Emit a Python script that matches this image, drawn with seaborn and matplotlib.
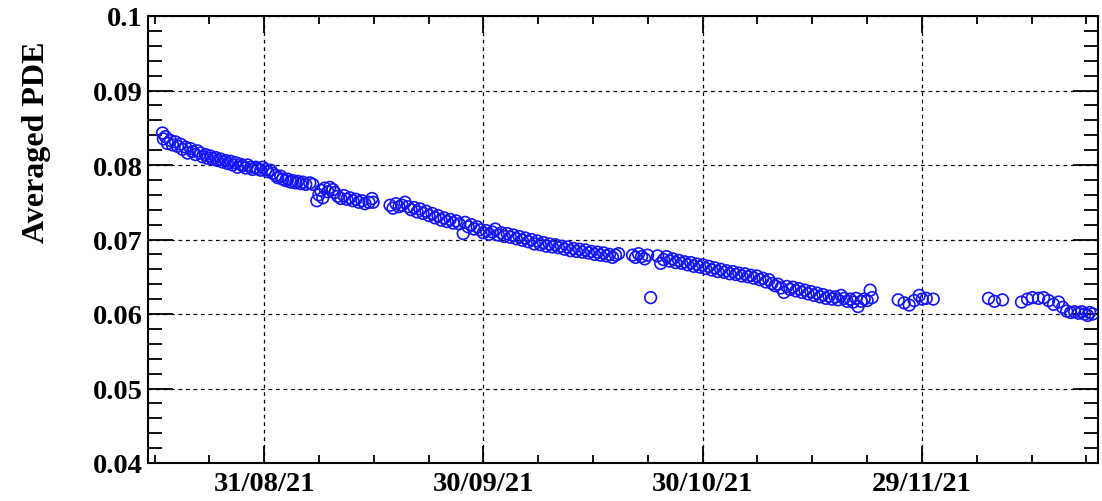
import numpy as np
import pandas as pd
import matplotlib
matplotlib.use("Agg")
import matplotlib.pyplot as plt
import matplotlib.dates as mdates
from matplotlib.ticker import MultipleLocator, FixedLocator, FuncFormatter
import seaborn as sns

# Measurement times, in days after 2021-08-31 00:00
days_after_aug31 = [
    -13.92, -13.80, -13.51, -13.24, -12.83, -12.55, -12.14, -11.87, -11.45, -11.18,
    -10.77, -10.49, -10.08, -9.81, -9.40, -9.12, -8.71, -8.44, -8.02, -7.75,
    -7.34, -7.06, -6.65, -6.38, -5.97, -5.69, -5.28, -5.01, -4.60, -4.32,
    -3.91, -3.64, -3.22, -2.95, -2.54, -2.26, -1.85, -1.58, -1.17, -0.89,
    -0.48, -0.21, 0.21, 0.48, 0.89, 1.17, 1.58, 1.85, 2.26, 2.54,
    2.95, 3.22, 3.64, 3.91, 4.32, 4.60, 5.01, 5.28, 5.69, 6.24, 6.65,
    7.20, 7.48, 7.75, 8.02, 8.30, 8.71, 8.98, 9.40, 9.67, 10.08,
    10.49, 10.91, 11.32, 11.73, 12.14, 12.55, 12.96, 13.37, 13.79, 14.33,
    14.75, 14.90,
    17.22, 17.63, 18.04, 18.45, 18.86, 19.27, 19.68, 20.10, 20.51, 20.92,
    21.33, 21.74, 22.15, 22.56, 22.98, 23.39, 23.80, 24.21, 24.62, 25.03,
    25.45, 25.86, 26.27, 26.68, 27.23, 27.50, 27.91, 28.33, 28.74, 29.15,
    29.56, 29.97, 30.38, 30.80, 31.21, 31.62, 32.03, 32.44, 32.85, 33.26,
    33.68, 34.09, 34.50, 34.91, 35.32, 35.73, 36.14, 36.56, 36.97, 37.38,
    37.79, 38.20, 38.61, 39.02, 39.44, 39.85, 40.26, 40.67, 41.08, 41.49,
    41.91, 42.32, 42.73, 43.14, 43.55, 43.96, 44.37, 44.79, 45.20, 45.61,
    46.02, 46.43, 46.84, 47.26, 47.67, 48.08, 48.49,
    50.41, 50.82, 51.23, 51.64, 52.06, 52.47, 52.88,
    53.84, 54.25, 54.66, 55.07, 55.49, 55.90, 56.31, 56.72, 57.13, 57.54,
    57.95, 58.37, 58.78, 59.19, 59.60, 60.01, 60.42, 60.83, 61.25, 61.66,
    62.07, 62.48, 62.89, 63.30, 63.72, 64.13, 64.54, 64.95, 65.36, 65.77,
    66.18, 66.60, 67.01, 67.42, 67.83, 68.24, 68.65, 69.07, 69.48, 69.89,
    70.30, 70.71, 71.12, 71.53, 71.95, 72.36, 72.77, 73.18, 73.59, 74.00,
    74.42, 74.83, 75.24, 75.65, 76.06, 76.47, 76.88, 77.30, 77.71, 78.12,
    78.53, 78.94, 79.35, 79.77, 80.18, 80.59, 81.00, 81.27, 81.68, 82.10,
    82.51, 82.92, 83.19,
    86.76, 87.58, 88.27, 88.95, 89.64, 90.05, 90.60, 91.56,
    99.11, 99.93, 101.03,
    103.63, 104.45, 105.14, 105.96, 106.65, 107.34, 108.02, 108.71, 109.26, 109.81,
    110.36, 110.90, 111.45, 111.86, 112.28, 112.69, 112.96, 113.37,
]

averaged_pde = [
    0.0843, 0.0835, 0.0838, 0.0829, 0.0833, 0.0827, 0.0831, 0.0825, 0.0828, 0.0821,
    0.0824, 0.0816, 0.0822, 0.0818, 0.0814, 0.0819, 0.0816, 0.0811, 0.0814, 0.0809,
    0.0812, 0.0808, 0.0810, 0.0806, 0.0808, 0.0804, 0.0806, 0.0802, 0.0805, 0.0800,
    0.0803, 0.0797, 0.0801, 0.0799, 0.0796, 0.0800, 0.0797, 0.0794, 0.0797, 0.0795,
    0.0793, 0.0797, 0.0794, 0.0791, 0.0793, 0.0789, 0.0786, 0.0783, 0.0785, 0.0781,
    0.0779, 0.0781, 0.0777, 0.0779, 0.0776, 0.0778, 0.0775, 0.0777, 0.0774, 0.0776, 0.0774,
    0.0752, 0.0760, 0.0766, 0.0756, 0.0769, 0.0764, 0.0770, 0.0767, 0.0763, 0.0758,
    0.0755, 0.0759, 0.0754, 0.0756, 0.0752, 0.0754, 0.0750, 0.0752, 0.0748, 0.0750,
    0.0755, 0.0750,
    0.0746, 0.0742, 0.0748, 0.0744, 0.0746, 0.0750, 0.0744, 0.0740, 0.0743, 0.0737,
    0.0741, 0.0735, 0.0738, 0.0732, 0.0735, 0.0729, 0.0732, 0.0726, 0.0729, 0.0724,
    0.0727, 0.0722, 0.0725, 0.0721, 0.0708, 0.0723, 0.0717, 0.0720, 0.0714, 0.0717,
    0.0713, 0.0709, 0.0712, 0.0707, 0.0710, 0.0714, 0.0706, 0.0709, 0.0704, 0.0708,
    0.0703, 0.0706, 0.0701, 0.0704, 0.0699, 0.0702, 0.0697, 0.0700, 0.0694, 0.0698,
    0.0693, 0.0696, 0.0691, 0.0694, 0.0690, 0.0693, 0.0689, 0.0691, 0.0687, 0.0690,
    0.0685, 0.0688, 0.0684, 0.0687, 0.0683, 0.0686, 0.0682, 0.0684, 0.0680, 0.0683,
    0.0679, 0.0682, 0.0678, 0.0680, 0.0676, 0.0679, 0.0681,
    0.0679, 0.0676, 0.0681, 0.0677, 0.0674, 0.0679, 0.0622,
    0.0678, 0.0668, 0.0673, 0.0677, 0.0671, 0.0674, 0.0669, 0.0672, 0.0668, 0.0670,
    0.0666, 0.0669, 0.0664, 0.0667, 0.0663, 0.0666, 0.0661, 0.0664, 0.0659, 0.0662,
    0.0657, 0.0660, 0.0656, 0.0658, 0.0654, 0.0657, 0.0653, 0.0655, 0.0651, 0.0654,
    0.0650, 0.0652, 0.0648, 0.0651, 0.0646, 0.0648, 0.0643, 0.0646, 0.0641, 0.0638,
    0.0640, 0.0635, 0.0629, 0.0637, 0.0633, 0.0636, 0.0631, 0.0634, 0.0629, 0.0632,
    0.0627, 0.0630, 0.0625, 0.0628, 0.0623, 0.0626, 0.0621, 0.0624, 0.0620, 0.0623,
    0.0619, 0.0625, 0.0621, 0.0617, 0.0620, 0.0616, 0.0621, 0.0610, 0.0617, 0.0620,
    0.0618, 0.0632, 0.0622,
    0.0619, 0.0615, 0.0612, 0.0618, 0.0625, 0.0620, 0.0621, 0.0620,
    0.0621, 0.0617, 0.0619,
    0.0616, 0.0620, 0.0622, 0.0621, 0.0622, 0.0618, 0.0613, 0.0616, 0.0609, 0.0604,
    0.0602, 0.0603, 0.0601, 0.0603, 0.0600, 0.0598, 0.0602, 0.0600,
]

x_range_days = (-15.9, 114.1)
y_range = (0.04, 0.1)
x_tick_dates = ["2021-08-31", "2021-09-30", "2021-10-30", "2021-11-29"]

origin = pd.Timestamp("2021-08-31")
df = pd.DataFrame({
    "time": origin + pd.to_timedelta(days_after_aug31, unit="D"),
    "pde": averaged_pde,
})

sns.set_style("white")
plt.rcParams["font.family"] = ["Liberation Serif", "DejaVu Serif"]
plt.rcParams["font.weight"] = "bold"

fig = plt.figure(figsize=(11.02, 5.02), dpi=100)
ax = fig.add_axes([148 / 1102, 1 - 464 / 502, (1098 - 148) / 1102, (464 - 17) / 502])

sns.scatterplot(data=df, x="time", y="pde", ax=ax, marker="o", s=70,
                linewidth=1.2, legend=False, zorder=3)
pts = ax.collections[0]
pts.set_facecolor("none")
pts.set_edgecolor("#1414ff")

ax.set_xlim(origin + pd.Timedelta(days=x_range_days[0]),
            origin + pd.Timedelta(days=x_range_days[1]))
ax.set_ylim(*y_range)

ax.xaxis.set_major_locator(FixedLocator(mdates.date2num(pd.to_datetime(x_tick_dates))))
ax.xaxis.set_minor_locator(MultipleLocator(7.5))
ax.xaxis.set_major_formatter(mdates.DateFormatter("%d/%m/%y"))
ax.yaxis.set_major_locator(MultipleLocator(0.01))
ax.yaxis.set_minor_locator(MultipleLocator(0.002))
ax.yaxis.set_major_formatter(FuncFormatter(lambda v, _: f"{v:.2f}".rstrip("0")))

ax.grid(True, which="major", color="black", linestyle=(0, (3, 3)), linewidth=0.9, zorder=1)

for s in ax.spines.values():
    s.set_visible(True)
    s.set_color("black")
    s.set_linewidth(1.5)

ax.tick_params(axis="both", which="both", direction="in", colors="black",
               width=1.3, top=True, right=True, bottom=True, left=True)
ax.tick_params(axis="y", which="major", length=18, pad=4, labelsize=20.5)
ax.tick_params(axis="y", which="minor", length=10)
ax.tick_params(axis="x", which="major", length=12, pad=6, labelsize=20.5)
ax.tick_params(axis="x", which="minor", length=6)
for lab in ax.get_xticklabels() + ax.get_yticklabels():
    lab.set_fontweight("bold")

ax.set_xlabel("")
ax.set_ylabel("Averaged PDE", fontsize=23, fontweight="bold", color="black")
ax.yaxis.set_label_coords(-0.102, 0.72)

fig.savefig("out.png", dpi=100, facecolor="white")
